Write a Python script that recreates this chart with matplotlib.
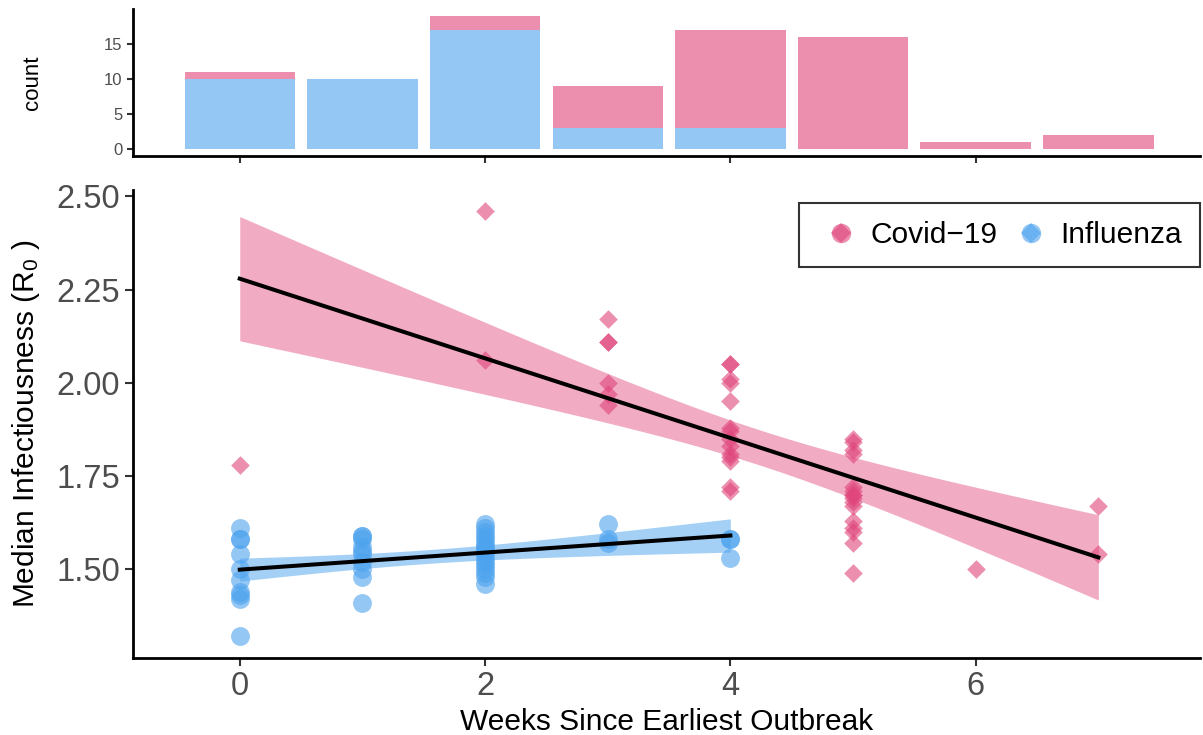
import matplotlib
matplotlib.use('Agg')
import matplotlib.pyplot as plt
from matplotlib.lines import Line2D
from matplotlib.legend_handler import HandlerTuple
import numpy as np

plt.rcParams['font.family'] = ['Liberation Sans', 'DejaVu Sans']
plt.rcParams['mathtext.default'] = 'regular'

# weeks since earliest outbreak and median R0, per outbreak
covid_weeks = [0, 2, 2,
               3, 3, 3, 3, 3, 3,
               4, 4, 4, 4, 4, 4, 4, 4, 4, 4, 4, 4, 4, 4,
               5, 5, 5, 5, 5, 5, 5, 5, 5, 5, 5, 5, 5, 5, 5, 5,
               6, 7, 7]
covid_r0 = [1.78, 2.46, 2.06,
            2.17, 2.11, 2.11, 2.00, 1.97, 1.94,
            2.05, 2.05, 2.01, 2.00, 1.95, 1.88, 1.87, 1.85, 1.83, 1.81, 1.80, 1.79, 1.72, 1.71,
            1.85, 1.84, 1.82, 1.81, 1.72, 1.71, 1.70, 1.70, 1.69, 1.68, 1.67, 1.63, 1.61, 1.60, 1.57, 1.49,
            1.50, 1.67, 1.54]

flu_weeks = [0] * 10 + [1] * 10 + [2] * 17 + [3] * 3 + [4] * 3
flu_r0 = [1.61, 1.58, 1.58, 1.54, 1.50, 1.47, 1.44, 1.43, 1.42, 1.32,
          1.59, 1.59, 1.58, 1.56, 1.55, 1.54, 1.52, 1.50, 1.48, 1.41,
          1.62, 1.61, 1.60, 1.59, 1.58, 1.57, 1.56, 1.56, 1.55, 1.54, 1.53, 1.52, 1.51, 1.50, 1.49, 1.48, 1.46,
          1.62, 1.58, 1.57,
          1.58, 1.58, 1.53]

pink = '#E0457B'
blue = '#4DA3EE'


def lm_ci(x, y, n=80):
    x = np.asarray(x, float)
    y = np.asarray(y, float)
    b, a = np.polyfit(x, y, 1)
    res = y - (a + b * x)
    df = len(x) - 2
    s = np.sqrt(np.sum(res ** 2) / df)
    xs = np.linspace(x.min(), x.max(), n)
    se = s * np.sqrt(1 / len(x) + (xs - x.mean()) ** 2 / np.sum((x - x.mean()) ** 2))
    t = 2.02
    fit = a + b * xs
    return xs, fit, fit - t * se, fit + t * se


fig = plt.figure(figsize=(12.03, 7.35), dpi=100)
ax_h = fig.add_axes([0.1106, 0.7878, 0.887, 0.2])
ax = fig.add_axes([0.1106, 0.1048, 0.887, 0.6367])

# histogram of weeks (stacked)
weeks = np.arange(8)
flu_counts = np.bincount(flu_weeks, minlength=8)
covid_counts = np.bincount(covid_weeks, minlength=8)
ax_h.bar(weeks, flu_counts, width=0.9, color=blue, alpha=0.6, linewidth=0)
ax_h.bar(weeks, covid_counts, width=0.9, bottom=flu_counts, color=pink, alpha=0.6, linewidth=0)
ax_h.set_xlim(-0.87, 7.83)
ax_h.set_ylim(-0.95, 19.95)
ax_h.set_yticks([0, 5, 10, 15])
ax_h.set_xticks([0, 2, 4, 6])
ax_h.set_xticklabels([])
ax_h.set_ylabel('count', fontsize=16, labelpad=44)
ax_h.tick_params(axis='y', labelsize=12, labelcolor='#4D4D4D', color='#333333', length=4, width=1.5)
ax_h.tick_params(axis='x', color='#333333', length=5, width=1.5)

# regression ribbons and lines
for wx, ry, col, a in [(covid_weeks, covid_r0, pink, 0.45), (flu_weeks, flu_r0, blue, 0.5)]:
    xs, fit, lo, hi = lm_ci(wx, ry)
    ax.fill_between(xs, lo, hi, color=col, alpha=a, linewidth=0, zorder=1)

ax.scatter(covid_weeks, covid_r0, marker='D', s=90, color=pink, alpha=0.6, linewidths=0, zorder=2)
ax.scatter(flu_weeks, flu_r0, marker='o', s=185, color=blue, alpha=0.6, linewidths=0, zorder=2)

for wx, ry in [(covid_weeks, covid_r0), (flu_weeks, flu_r0)]:
    xs, fit, lo, hi = lm_ci(wx, ry)
    ax.plot(xs, fit, color='black', linewidth=2.9, zorder=3)

ax.set_xlim(-0.87, 7.83)
ax.set_ylim(1.262, 2.517)
ax.set_xticks([0, 2, 4, 6])
ax.set_yticks([1.50, 1.75, 2.00, 2.25, 2.50])
ax.set_yticklabels(['1.50', '1.75', '2.00', '2.25', '2.50'])
ax.tick_params(labelsize=23.5, labelcolor='#4D4D4D', color='#333333', length=6, width=1.5)
ax.set_xlabel('Weeks Since Earliest Outbreak', fontsize=21.5, labelpad=4)
ax.set_ylabel('Median Infectiousness (R$_0$ )', fontsize=21.5, labelpad=10)

for a_ in (ax, ax_h):
    a_.spines['top'].set_visible(False)
    a_.spines['right'].set_visible(False)
    a_.spines['left'].set_linewidth(2)
    a_.spines['bottom'].set_linewidth(2)

h_covid = (Line2D([], [], marker='o', ls='', color=pink, alpha=0.6, markersize=14, markeredgewidth=0),
           Line2D([], [], marker='D', ls='', color=pink, alpha=0.6, markersize=10, markeredgewidth=0))
h_flu = (Line2D([], [], marker='o', ls='', color=blue, alpha=0.6, markersize=14, markeredgewidth=0),
         Line2D([], [], marker='D', ls='', color=blue, alpha=0.6, markersize=10, markeredgewidth=0))
leg = ax.legend([h_covid, h_flu], ['Covid\u221219', 'Influenza'],
                handler_map={tuple: HandlerTuple(ndivide=1)},
                loc='upper right', bbox_to_anchor=(1.0, 0.972), borderaxespad=0,
                ncol=2, fontsize=21.5,
                frameon=True, fancybox=False, edgecolor='black', handlelength=1.6,
                handletextpad=0.2, columnspacing=0.3, borderpad=0.6)
leg.get_frame().set_linewidth(1.5)

fig.savefig('out.png', dpi=100)
